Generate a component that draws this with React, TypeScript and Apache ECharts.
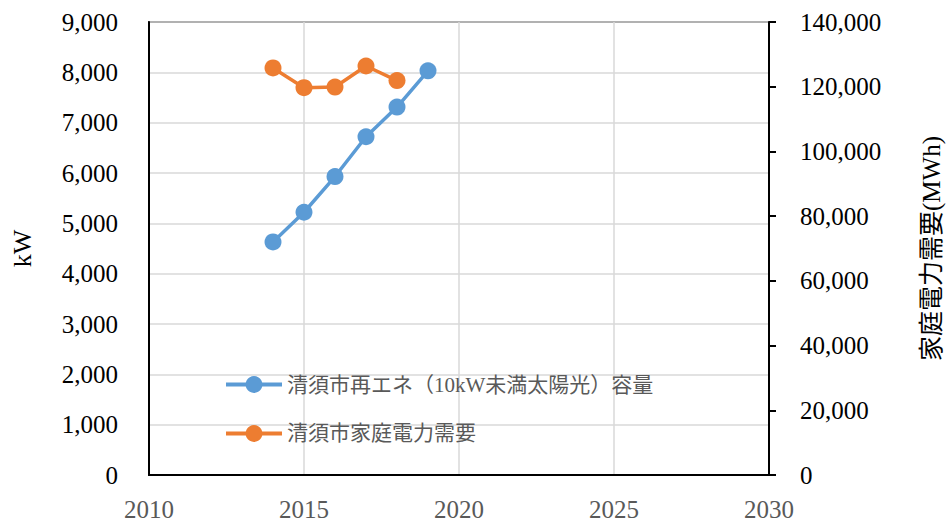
import React, { useEffect, useRef } from "react";
import * as echarts from "echarts";

const years = [2014, 2015, 2016, 2017, 2018, 2019];
const solarCapacity = [4630, 5220, 5930, 6720, 7310, 8030];
const demandYears = [2014, 2015, 2016, 2017, 2018];
const householdDemand = [125800, 119700, 119900, 126400, 121900];
const solarName = "清須市再エネ（10kW未満太陽光）容量";
const demandName = "清須市家庭電力需要";
const leftAxisName = "kW";
const rightAxisName = "家庭電力需要(MWh)";

const FONT = "'Liberation Serif', 'Noto Sans CJK JP', serif";

export default function App() {
  const ref = useRef<HTMLDivElement>(null);
  useEffect(() => {
    if (!ref.current) return;
    const chart = echarts.init(ref.current, undefined, { renderer: "svg" });
    const fmt = (v: number) => v.toLocaleString("en-US");
    chart.setOption({
      animation: false,
      backgroundColor: "#ffffff",
      textStyle: { fontFamily: FONT },
      grid: {
        left: 149,
        right: 180,
        top: 22,
        bottom: 49,
        show: true,
        borderColor: "#000",
        borderWidth: 1.5,
        containLabel: false,
        outerBoundsMode: "none",
      },
      legend: {
        orient: "vertical",
        left: 219,
        top: 369,
        itemWidth: 56,
        itemHeight: 21,
        itemGap: 28,
        lineStyle: { width: 4 },
        textStyle: { fontSize: 21, color: "#595959", fontFamily: FONT },
        data: [solarName, demandName],
      },
      xAxis: {
        type: "value",
        min: 2010,
        max: 2030,
        interval: 5,
        axisLine: { show: true, lineStyle: { color: "#000", width: 2 } },
        axisTick: { show: false },
        axisLabel: {
          color: "#595959",
          fontSize: 25,
          margin: 22,
          fontFamily: FONT,
          formatter: (v: number) => String(v),
        },
        splitLine: { show: true, lineStyle: { color: "#d9d9d9", width: 1.5 } },
      },
      yAxis: [
        {
          type: "value",
          min: 0,
          max: 9000,
          interval: 1000,
          name: leftAxisName,
          nameLocation: "middle",
          nameGap: 114,
          nameRotate: 90,
          nameTextStyle: { fontSize: 26, color: "#000", fontFamily: FONT },
          axisLine: { show: true, lineStyle: { color: "#000", width: 2 } },
          axisTick: { show: false },
          axisLabel: { color: "#000", fontSize: 25, margin: 31, formatter: fmt, fontFamily: FONT },
          splitLine: { show: true, lineStyle: { color: "#d9d9d9", width: 1.5 } },
        },
        {
          type: "value",
          min: 0,
          max: 140000,
          interval: 20000,
          position: "right",
          name: rightAxisName,
          nameLocation: "middle",
          nameGap: 150,
          nameRotate: 90,
          nameTextStyle: { fontSize: 25, color: "#000", fontFamily: FONT },
          axisLine: { show: true, lineStyle: { color: "#000", width: 2 } },
          axisTick: { show: true, inside: false, length: 7, lineStyle: { color: "#000", width: 2 } },
          axisLabel: { color: "#000", fontSize: 25, margin: 31, formatter: fmt, fontFamily: FONT },
          splitLine: { show: false },
        },
      ],
      series: [
        {
          name: solarName,
          type: "line",
          yAxisIndex: 0,
          data: years.map((y, i) => [y, solarCapacity[i]]),
          symbol: "circle",
          symbolSize: 17,
          lineStyle: { width: 3.5, color: "#5B9BD5" },
          itemStyle: { color: "#5B9BD5" },
          z: 3,
        },
        {
          name: demandName,
          type: "line",
          yAxisIndex: 1,
          data: demandYears.map((y, i) => [y, householdDemand[i]]),
          symbol: "circle",
          symbolSize: 17,
          lineStyle: { width: 3.5, color: "#ED7D31" },
          itemStyle: { color: "#ED7D31" },
          z: 3,
        },
      ],
    });
    return () => chart.dispose();
  }, []);
  return (
    <div
      ref={ref}
      style={{ position: "fixed", left: 0, top: 0, width: 949, height: 524 }}
    />
  );
}
